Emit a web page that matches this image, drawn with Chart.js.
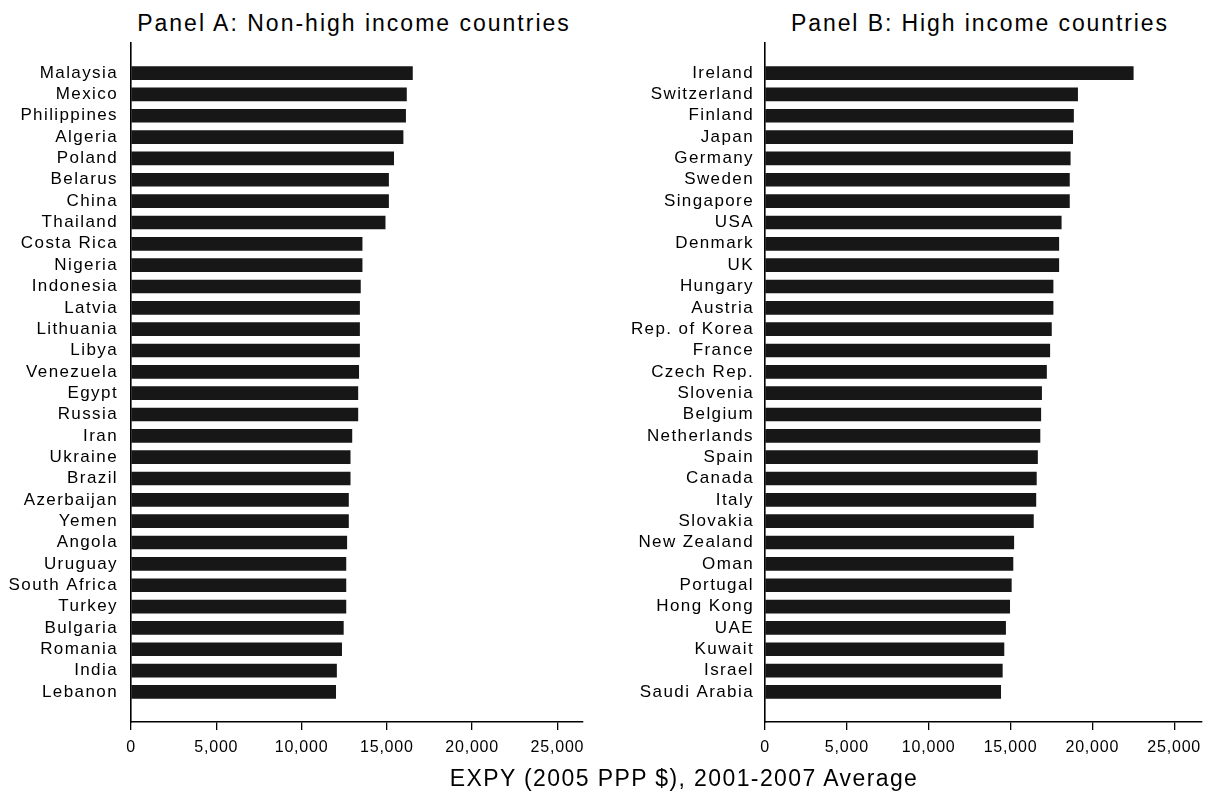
<!DOCTYPE html>
<html><head><meta charset="utf-8">
<script src="https://cdn.jsdelivr.net/npm/chart.js@4.4.1/dist/chart.umd.min.js"></script>
<style>
html,body{margin:0;padding:0;background:#fff;}
#wrap{position:relative;width:1209px;height:802px;overflow:hidden;font-family:"Liberation Sans",Arial,sans-serif;color:#000;}
canvas{position:absolute;top:0;}
.t{position:absolute;white-space:nowrap;font-size:23px;line-height:23px;transform:translateX(-50%);}
</style></head><body>
<div id="wrap">
<div class="t" style="left:354px;top:12px;letter-spacing:2px">Panel A: Non-high income countries</div>
<div class="t" style="left:980px;top:12px;letter-spacing:1.9px">Panel B: High income countries</div>
<canvas id="cA" width="600" height="802" style="left:0;width:600px;height:802px"></canvas>
<canvas id="cB" width="600" height="802" style="left:609px;width:600px;height:802px"></canvas>
<div class="t" style="left:684px;top:767px;letter-spacing:1.4px">EXPY (2005 PPP $), 2001-2007 Average</div>
</div>
<script>
const countriesA = ["Malaysia","Mexico","Philippines","Algeria","Poland","Belarus","China","Thailand","Costa Rica","Nigeria","Indonesia","Latvia","Lithuania","Libya","Venezuela","Egypt","Russia","Iran","Ukraine","Brazil","Azerbaijan","Yemen","Angola","Uruguay","South Africa","Turkey","Bulgaria","Romania","India","Lebanon"];
const expyA = [16500,16150,16100,15950,15400,15100,15100,14900,13550,13550,13450,13400,13400,13400,13350,13300,13300,12950,12850,12850,12750,12750,12650,12600,12600,12600,12450,12350,12050,12000];
const countriesB = ["Ireland","Switzerland","Finland","Japan","Germany","Sweden","Singapore","USA","Denmark","UK","Hungary","Austria","Rep. of Korea","France","Czech Rep.","Slovenia","Belgium","Netherlands","Spain","Canada","Italy","Slovakia","New Zealand","Oman","Portugal","Hong Kong","UAE","Kuwait","Israel","Saudi Arabia"];
const expyB = [22500,19100,18850,18800,18650,18600,18600,18100,17950,17950,17600,17600,17500,17400,17200,16900,16850,16800,16650,16580,16550,16400,15200,15150,15050,14950,14700,14600,14500,14400];
const xTicks = [0,5000,10000,15000,20000,25000];
const xMaxA = 26500;
const xMaxB = 26700;

Chart.defaults.font.family = '"Liberation Sans", Arial, sans-serif';
Chart.defaults.color = '#000';

const spacing = {
  id: 'spacing',
  beforeDraw(c){ c.ctx.letterSpacing = '0.8px'; },
  afterDatasetsDraw(c){ c.ctx.letterSpacing = '1.4px'; },
  afterDraw(c){ c.ctx.letterSpacing = '0px'; }
};

function makeChart(id, cats, vals, xMax, axisLeft, padRight, labelPad) {
  const data = vals.map((v, i) => ({x: v, y: i}));
  return new Chart(document.getElementById(id), {
    type: 'bar',
    data: {datasets: [{data: data, backgroundColor: '#171717', borderWidth: 0, barThickness: 13}]},
    plugins: [spacing],
    options: {
      indexAxis: 'y', responsive: false, animation: false,
      layout: {padding: {top: 43, right: padRight, bottom: 0, left: 0}},
      plugins: {legend: {display: false}, tooltip: {enabled: false}},
      scales: {
        x: {
          type: 'linear', position: 'bottom', bounds: 'data', offset: false, min: 0, max: xMax,
          afterBuildTicks: s => { s.ticks = xTicks.map(v => ({value: v})); },
          afterFit: s => { s.height = 80; s.paddingLeft = 0; s.paddingRight = 0; },
          grid: {display: true, offset: false, drawOnChartArea: false, drawTicks: true, tickLength: 8, color: '#000', lineWidth: 1.3},
          border: {display: true, color: '#000', width: 1.6},
          ticks: {padding: 8, font: {size: 16}, maxRotation: 0, autoSkip: false,
                  callback: v => v.toLocaleString('en-US')}
        },
        y: {
          type: 'linear', position: 'left', reverse: true, bounds: 'data', offset: false,
          min: -1.41, max: cats.length - 1 + 1.41,
          afterBuildTicks: s => { s.ticks = cats.map((c, i) => ({value: i})); },
          afterFit: s => { s.width = axisLeft; s.paddingTop = 0; s.paddingBottom = 0; },
          grid: {display: false, offset: false, drawTicks: false},
          border: {display: true, color: '#000', width: 1.6},
          ticks: {padding: labelPad, font: {size: 17}, autoSkip: false, z: 1, callback: v => cats[v]}
        }
      }
    }
  });
}

makeChart('cA', countriesA, expyA, xMaxA, 131, 17, 13);
makeChart('cB', countriesB, expyB, xMaxB, 156, 7, 11);
</script>
</body></html>
